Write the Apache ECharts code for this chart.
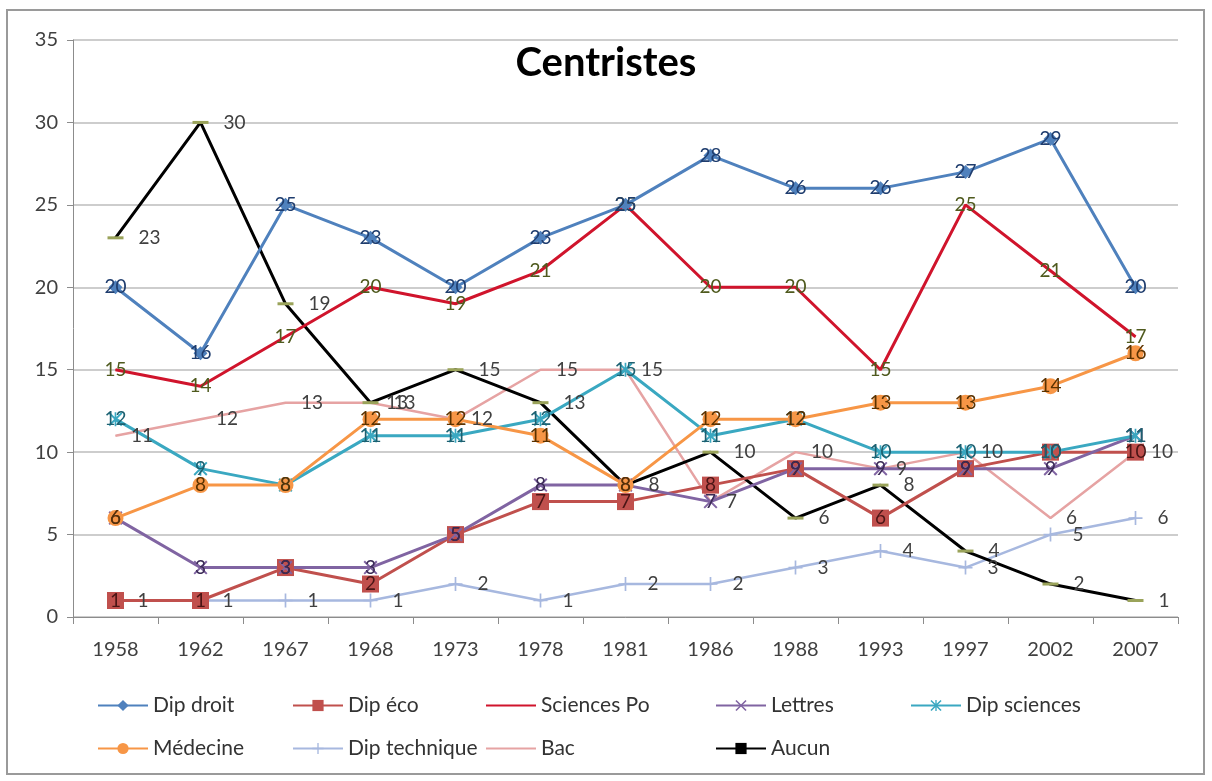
<!DOCTYPE html>
<html>
<head>
<meta charset="utf-8">
<script src="https://cdn.jsdelivr.net/npm/echarts@6/dist/echarts.min.js"></script>
<style>
  html, body { margin: 0; padding: 0; background: #fff; }
  #chart { width: 1212px; height: 781px; }
</style>
</head>
<body>
<div id="chart"></div>
<script>
// années
const years = ['1958','1962','1967','1968','1973','1978','1981','1986','1988','1993','1997','2002','2007'];

// séries
const dipDroit     = [20, 16, 25, 23, 20, 23, 25, 28, 26, 26, 27, 29, 20];
const dipEco       = [1, 1, 3, 2, 5, 7, 7, 8, 9, 6, 9, 10, 10];
const sciencesPo   = [15, 14, 17, 20, 19, 21, 25, 20, 20, 15, 25, 21, 17];
const lettres      = [6, 3, 3, 3, 5, 8, 8, 7, 9, 9, 9, 9, 11];
const dipSciences  = [12, 9, 8, 11, 11, 12, 15, 11, 12, 10, 10, 10, 11];
const medecine     = [6, 8, 8, 12, 12, 11, 8, 12, 12, 13, 13, 14, 16];
const dipTechnique = [1, 1, 1, 1, 2, 1, 2, 2, 3, 4, 3, 5, 6];
const bac          = [11, 12, 13, 13, 12, 15, 15, 7, 10, 9, 10, 6, 10];
const aucun        = [23, 30, 19, 13, 15, 13, 8, 10, 6, 8, 4, 2, 1];

const FONT = 'Lato, "Open Sans", sans-serif';

// symboles
const symX = 'path://M0,1 L1,0 L10,9 L9,10 Z M9,0 L10,1 L1,10 L0,9 Z';
const symStar = 'path://M0,1 L1,0 L10,9 L9,10 Z M9,0 L10,1 L1,10 L0,9 Z M4.4,0 L5.6,0 L5.6,10 L4.4,10 Z';
const symPlus = 'path://M4.4,0 L5.6,0 L5.6,10 L4.4,10 Z M0,4.4 L10,4.4 L10,5.6 L0,5.6 Z';
const symDash = 'path://M0,0 L10,0 L10,2 L0,2 Z';

function serie(name, data, color, symbol, size, labelColor, pos, width) {
    return {
        name: name,
        type: 'line',
        data: data,
        symbol: symbol,
        symbolSize: size,
        showAllSymbol: true,
        lineStyle: { color: color, width: width || 3 },
        itemStyle: { color: color },
        label: {
            show: true,
            position: pos,
            distance: pos === 'right' ? 15 : 0,
            color: labelColor,
            fontFamily: FONT,
            fontSize: 19
        }
    };
}

let chart = echarts.init(document.getElementById('chart'));

const legendLeft = [92, 287, 480, 710, 905];
function legendItem(name, col, row, itemStyle) {
    let l = {
        data: [name],
        left: legendLeft[col],
        top: row === 0 ? 690 : 733,
        itemWidth: 50,
        itemHeight: 14,
        itemGap: 0,
        textStyle: { fontFamily: FONT, fontSize: 21, color: '#333' }
    };
    if (itemStyle) l.itemStyle = itemStyle;
    return l;
}

let option = {
    backgroundColor: '#fff',
    animation: false,
    title: {
        text: 'Centristes',
        left: 'center',
        top: 38,
        textStyle: { fontFamily: FONT, fontSize: 40, fontWeight: 'bold', color: '#000' }
    },
    graphic: [{
        type: 'rect',
        shape: { x: 7, y: 10, width: 1197, height: 764 },
        style: { fill: 'none', stroke: '#9a9a9a', lineWidth: 2 },
        silent: true
    }],
    legend: [
        legendItem('Dip droit', 0, 0),
        legendItem('Dip éco', 1, 0),
        legendItem('Sciences Po', 2, 0, { opacity: 0 }),
        legendItem('Lettres', 3, 0),
        legendItem('Dip sciences', 4, 0),
        legendItem('Médecine', 0, 1),
        legendItem('Dip technique', 1, 1),
        legendItem('Bac', 2, 1, { opacity: 0 }),
        legendItem('Aucun', 3, 1, { color: '#000' })
    ],
    grid: { left: 73, right: 34, top: 40, bottom: 164 },
    xAxis: {
        type: 'category',
        data: years,
        boundaryGap: true,
        axisLine: { lineStyle: { color: '#8c8c8c', width: 1 } },
        axisTick: { show: true, length: 7, lineStyle: { color: '#8c8c8c' } },
        axisLabel: { margin: 23, fontFamily: FONT, fontSize: 20, color: '#404040' }
    },
    yAxis: {
        type: 'value',
        min: 0,
        max: 35,
        interval: 5,
        axisLine: { show: true, lineStyle: { color: '#8c8c8c', width: 1 } },
        axisTick: { show: true, length: 6, lineStyle: { color: '#8c8c8c' } },
        splitLine: { lineStyle: { color: '#bdbdbd', width: 1.5 } },
        axisLabel: { margin: 15, fontFamily: FONT, fontSize: 20, color: '#404040' }
    },
    series: [
        serie('Bac', bac, '#e6a3a3', 'circle', 1, '#404040', 'right', 2.5),
        serie('Dip technique', dipTechnique, '#a7b8df', symPlus, 14, '#404040', 'right', 2.5),
        serie('Aucun', aucun, '#000000', symDash, [16, 3], '#404040', 'right', 3),
        serie('Dip éco', dipEco, '#c0504d', 'rect', 17, '#4a1515', 'inside', 3),
        serie('Lettres', lettres, '#8064a2', symX, 14, '#3a2a55', 'inside', 3),
        serie('Dip sciences', dipSciences, '#3aa8c1', symStar, 14, '#1d6070', 'inside', 3),
        serie('Médecine', medecine, '#f79646', 'circle', 16, '#5a3200', 'inside', 3),
        serie('Sciences Po', sciencesPo, '#d0142c', 'circle', 1, '#4f5a1e', 'inside', 3),
        serie('Dip droit', dipDroit, '#4f81bd', 'diamond', 14, '#1f3d6e', 'inside', 3)
    ]
};
// marqueurs "Aucun" couleur olive
option.series[2].itemStyle = { color: '#9aa35a' };

chart.setOption(option);
</script>
</body>
</html>
